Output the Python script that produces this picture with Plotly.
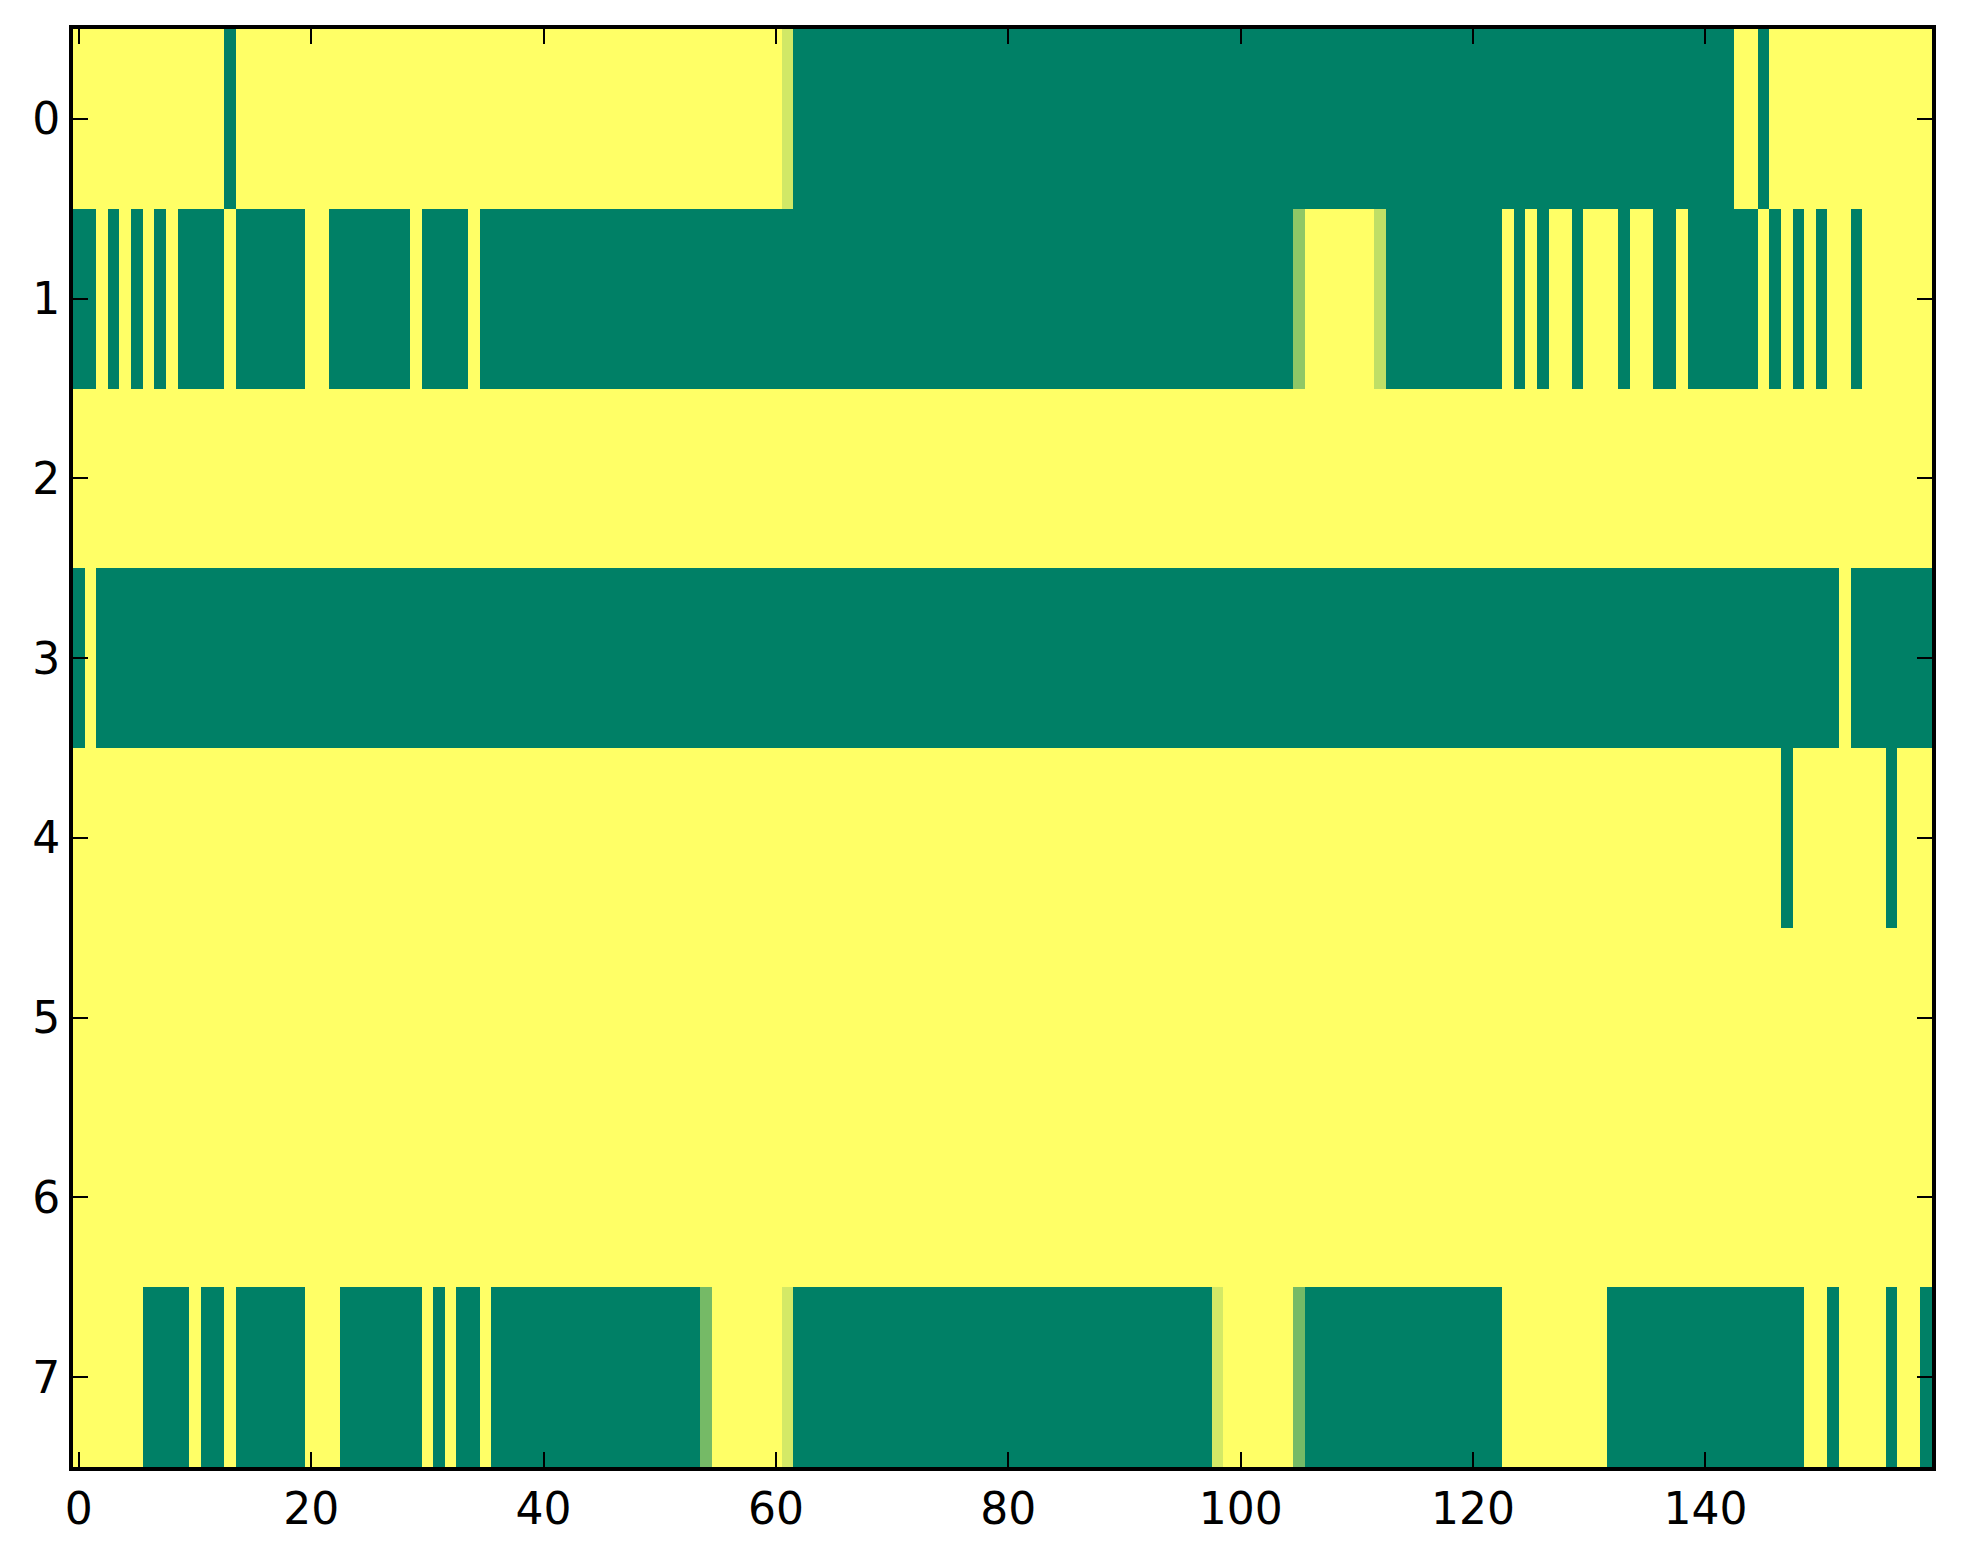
import plotly.graph_objects as go

# grid cell values (1 = yellow, 0 = green)
columns = list(range(160))
rows = [0, 1, 2, 3, 4, 5, 6, 7]

row0 = [1, 1, 1, 1, 1, 1, 1, 1, 1, 1, 1, 1, 1, 0, 1, 1, 1, 1, 1, 1,
        1, 1, 1, 1, 1, 1, 1, 1, 1, 1, 1, 1, 1, 1, 1, 1, 1, 1, 1, 1,
        1, 1, 1, 1, 1, 1, 1, 1, 1, 1, 1, 1, 1, 1, 1, 1, 1, 1, 1, 1,
        1, 0.82, 0, 0, 0, 0, 0, 0, 0, 0, 0, 0, 0, 0, 0, 0, 0, 0, 0, 0,
        0, 0, 0, 0, 0, 0, 0, 0, 0, 0, 0, 0, 0, 0, 0, 0, 0, 0, 0, 0,
        0, 0, 0, 0, 0, 0, 0, 0, 0, 0, 0, 0, 0, 0, 0, 0, 0, 0, 0, 0,
        0, 0, 0, 0, 0, 0, 0, 0, 0, 0, 0, 0, 0, 0, 0, 0, 0, 0, 0, 0,
        0, 0, 0, 1, 1, 0, 1, 1, 1, 1, 1, 1, 1, 1, 1, 1, 1, 1, 1, 1]

row1 = [0, 0, 1, 0, 1, 0, 1, 0, 1, 0, 0, 0, 0, 1, 0, 0, 0, 0, 0, 0,
        1, 1, 0, 0, 0, 0, 0, 0, 0, 1, 0, 0, 0, 0, 1, 0, 0, 0, 0, 0,
        0, 0, 0, 0, 0, 0, 0, 0, 0, 0, 0, 0, 0, 0, 0, 0, 0, 0, 0, 0,
        0, 0, 0, 0, 0, 0, 0, 0, 0, 0, 0, 0, 0, 0, 0, 0, 0, 0, 0, 0,
        0, 0, 0, 0, 0, 0, 0, 0, 0, 0, 0, 0, 0, 0, 0, 0, 0, 0, 0, 0,
        0, 0, 0, 0, 0, 0.56, 1, 1, 1, 1, 1, 1, 0.75, 0, 0, 0, 0, 0, 0, 0,
        0, 0, 0, 1, 0, 1, 0, 1, 1, 0, 1, 1, 1, 0, 1, 1, 0, 0, 1, 0,
        0, 0, 0, 0, 0, 1, 0, 1, 0, 1, 0, 1, 1, 0, 1, 1, 1, 1, 1, 1]

row2 = [1, 1, 1, 1, 1, 1, 1, 1, 1, 1, 1, 1, 1, 1, 1, 1, 1, 1, 1, 1,
        1, 1, 1, 1, 1, 1, 1, 1, 1, 1, 1, 1, 1, 1, 1, 1, 1, 1, 1, 1,
        1, 1, 1, 1, 1, 1, 1, 1, 1, 1, 1, 1, 1, 1, 1, 1, 1, 1, 1, 1,
        1, 1, 1, 1, 1, 1, 1, 1, 1, 1, 1, 1, 1, 1, 1, 1, 1, 1, 1, 1,
        1, 1, 1, 1, 1, 1, 1, 1, 1, 1, 1, 1, 1, 1, 1, 1, 1, 1, 1, 1,
        1, 1, 1, 1, 1, 1, 1, 1, 1, 1, 1, 1, 1, 1, 1, 1, 1, 1, 1, 1,
        1, 1, 1, 1, 1, 1, 1, 1, 1, 1, 1, 1, 1, 1, 1, 1, 1, 1, 1, 1,
        1, 1, 1, 1, 1, 1, 1, 1, 1, 1, 1, 1, 1, 1, 1, 1, 1, 1, 1, 1]

row3 = [0, 1, 0, 0, 0, 0, 0, 0, 0, 0, 0, 0, 0, 0, 0, 0, 0, 0, 0, 0,
        0, 0, 0, 0, 0, 0, 0, 0, 0, 0, 0, 0, 0, 0, 0, 0, 0, 0, 0, 0,
        0, 0, 0, 0, 0, 0, 0, 0, 0, 0, 0, 0, 0, 0, 0, 0, 0, 0, 0, 0,
        0, 0, 0, 0, 0, 0, 0, 0, 0, 0, 0, 0, 0, 0, 0, 0, 0, 0, 0, 0,
        0, 0, 0, 0, 0, 0, 0, 0, 0, 0, 0, 0, 0, 0, 0, 0, 0, 0, 0, 0,
        0, 0, 0, 0, 0, 0, 0, 0, 0, 0, 0, 0, 0, 0, 0, 0, 0, 0, 0, 0,
        0, 0, 0, 0, 0, 0, 0, 0, 0, 0, 0, 0, 0, 0, 0, 0, 0, 0, 0, 0,
        0, 0, 0, 0, 0, 0, 0, 0, 0, 0, 0, 0, 1, 0, 0, 0, 0, 0, 0, 0]

row4 = [1, 1, 1, 1, 1, 1, 1, 1, 1, 1, 1, 1, 1, 1, 1, 1, 1, 1, 1, 1,
        1, 1, 1, 1, 1, 1, 1, 1, 1, 1, 1, 1, 1, 1, 1, 1, 1, 1, 1, 1,
        1, 1, 1, 1, 1, 1, 1, 1, 1, 1, 1, 1, 1, 1, 1, 1, 1, 1, 1, 1,
        1, 1, 1, 1, 1, 1, 1, 1, 1, 1, 1, 1, 1, 1, 1, 1, 1, 1, 1, 1,
        1, 1, 1, 1, 1, 1, 1, 1, 1, 1, 1, 1, 1, 1, 1, 1, 1, 1, 1, 1,
        1, 1, 1, 1, 1, 1, 1, 1, 1, 1, 1, 1, 1, 1, 1, 1, 1, 1, 1, 1,
        1, 1, 1, 1, 1, 1, 1, 1, 1, 1, 1, 1, 1, 1, 1, 1, 1, 1, 1, 1,
        1, 1, 1, 1, 1, 1, 1, 0, 1, 1, 1, 1, 1, 1, 1, 1, 0, 1, 1, 1]

row5 = [1, 1, 1, 1, 1, 1, 1, 1, 1, 1, 1, 1, 1, 1, 1, 1, 1, 1, 1, 1,
        1, 1, 1, 1, 1, 1, 1, 1, 1, 1, 1, 1, 1, 1, 1, 1, 1, 1, 1, 1,
        1, 1, 1, 1, 1, 1, 1, 1, 1, 1, 1, 1, 1, 1, 1, 1, 1, 1, 1, 1,
        1, 1, 1, 1, 1, 1, 1, 1, 1, 1, 1, 1, 1, 1, 1, 1, 1, 1, 1, 1,
        1, 1, 1, 1, 1, 1, 1, 1, 1, 1, 1, 1, 1, 1, 1, 1, 1, 1, 1, 1,
        1, 1, 1, 1, 1, 1, 1, 1, 1, 1, 1, 1, 1, 1, 1, 1, 1, 1, 1, 1,
        1, 1, 1, 1, 1, 1, 1, 1, 1, 1, 1, 1, 1, 1, 1, 1, 1, 1, 1, 1,
        1, 1, 1, 1, 1, 1, 1, 1, 1, 1, 1, 1, 1, 1, 1, 1, 1, 1, 1, 1]

row6 = [1, 1, 1, 1, 1, 1, 1, 1, 1, 1, 1, 1, 1, 1, 1, 1, 1, 1, 1, 1,
        1, 1, 1, 1, 1, 1, 1, 1, 1, 1, 1, 1, 1, 1, 1, 1, 1, 1, 1, 1,
        1, 1, 1, 1, 1, 1, 1, 1, 1, 1, 1, 1, 1, 1, 1, 1, 1, 1, 1, 1,
        1, 1, 1, 1, 1, 1, 1, 1, 1, 1, 1, 1, 1, 1, 1, 1, 1, 1, 1, 1,
        1, 1, 1, 1, 1, 1, 1, 1, 1, 1, 1, 1, 1, 1, 1, 1, 1, 1, 1, 1,
        1, 1, 1, 1, 1, 1, 1, 1, 1, 1, 1, 1, 1, 1, 1, 1, 1, 1, 1, 1,
        1, 1, 1, 1, 1, 1, 1, 1, 1, 1, 1, 1, 1, 1, 1, 1, 1, 1, 1, 1,
        1, 1, 1, 1, 1, 1, 1, 1, 1, 1, 1, 1, 1, 1, 1, 1, 1, 1, 1, 1]

row7 = [1, 1, 1, 1, 1, 1, 0, 0, 0, 0, 1, 0, 0, 1, 0, 0, 0, 0, 0, 0,
        1, 1, 1, 0, 0, 0, 0, 0, 0, 0, 1, 0, 1, 0, 0, 1, 0, 0, 0, 0,
        0, 0, 0, 0, 0, 0, 0, 0, 0, 0, 0, 0, 0, 0, 0.46, 1, 1, 1, 1, 1,
        1, 0.83, 0, 0, 0, 0, 0, 0, 0, 0, 0, 0, 0, 0, 0, 0, 0, 0, 0, 0,
        0, 0, 0, 0, 0, 0, 0, 0, 0, 0, 0, 0, 0, 0, 0, 0, 0, 0, 0.83, 1,
        1, 1, 1, 1, 1, 0.46, 0, 0, 0, 0, 0, 0, 0, 0, 0, 0, 0, 0, 0, 0,
        0, 0, 0, 1, 1, 1, 1, 1, 1, 1, 1, 1, 0, 0, 0, 0, 0, 0, 0, 0,
        0, 0, 0, 0, 0, 0, 0, 0, 0, 1, 1, 0, 1, 1, 1, 1, 0, 1, 1, 0]

x_ticks = [0, 20, 40, 60, 80, 100, 120, 140]

# matplotlib "summer" colormap
summer = [[0.0, 'rgb(0,128,102)'], [1.0, 'rgb(255,255,102)']]

z = [row0, row1, row2, row3, row4, row5, row6, row7]

fig = go.Figure()
fig.add_trace(go.Heatmap(z=z, x=columns, y=rows, colorscale=summer,
                         zmin=0, zmax=1, showscale=False, hoverinfo='skip'))

axis_style = dict(showline=True, linecolor='black', linewidth=4, mirror='ticks',
                  ticks='inside', ticklen=15, tickwidth=2, tickcolor='black',
                  showgrid=False, zeroline=False,
                  tickfont=dict(family='DejaVu Sans', size=44, color='black'))

fig.update_xaxes(range=[-0.5, 159.5], tickvals=x_ticks, **axis_style)
fig.update_yaxes(range=[7.5, -0.5], tickvals=rows, **axis_style)

# the page body adds 8px, so margins are shifted to compensate
fig.update_layout(width=1963, height=1564,
                  margin=dict(l=65, r=39, t=21, b=105),
                  paper_bgcolor='white', plot_bgcolor='white')

fig.write_html("out.html")
